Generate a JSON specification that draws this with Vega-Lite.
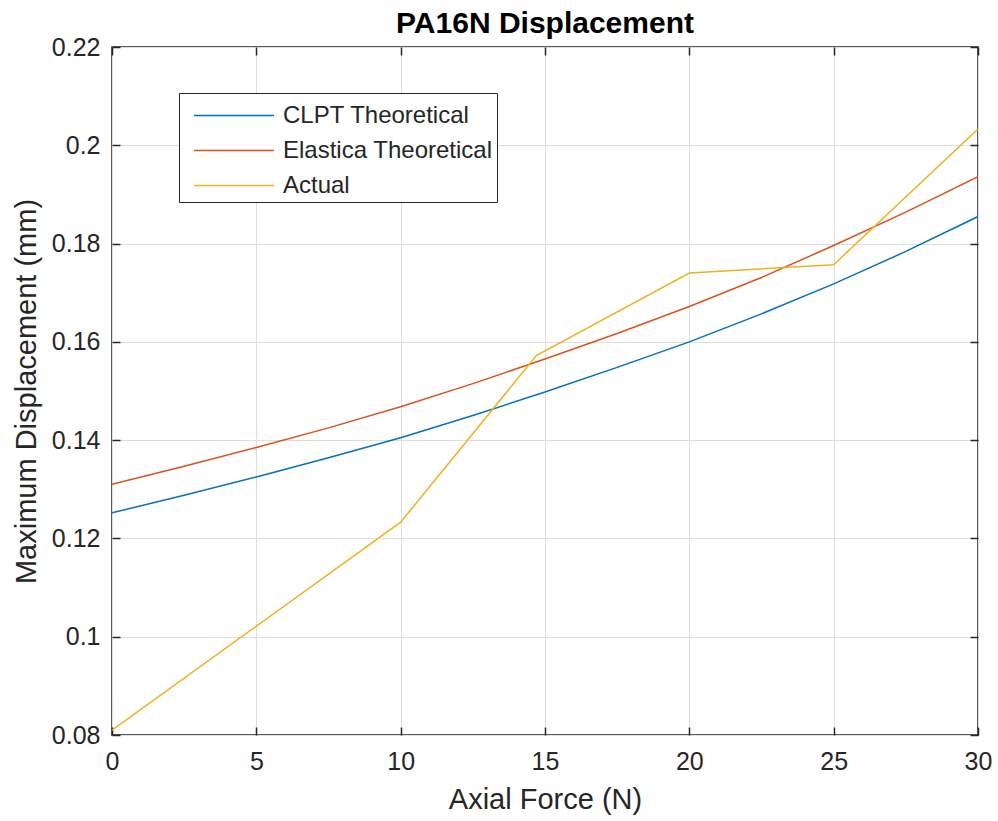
{
  "$schema": "https://vega.github.io/schema/vega-lite/v6.json",
  "autosize": "none",
  "width": 866,
  "height": 688,
  "padding": {"left": 112, "top": 47, "right": 20, "bottom": 86},
  "background": "white",
  "title": {"text": "PA16N Displacement", "font": "Liberation Sans", "fontSize": 30, "fontWeight": "bold", "color": "#000000", "offset": -4},
  "config": {
    "view": {"stroke": "#262626", "strokeWidth": 1.5},
    "axis": {"labelFont": "Liberation Sans", "titleFont": "Liberation Sans", "labelFontSize": 25, "titleFontSize": 29, "labelColor": "#262626", "titleColor": "#262626", "titleFontWeight": "normal", "gridColor": "#dedede", "gridOpacity": 1, "gridWidth": 1, "domain": false, "tickColor": "#262626", "tickWidth": 1.5, "labelFlush": false}
  },
  "data": {"values": [
    {"force": 0, "disp": 0.1252, "series": "CLPT Theoretical"},
    {"force": 2.5, "disp": 0.1288, "series": "CLPT Theoretical"},
    {"force": 5, "disp": 0.1325, "series": "CLPT Theoretical"},
    {"force": 7.5, "disp": 0.1364, "series": "CLPT Theoretical"},
    {"force": 10, "disp": 0.1405, "series": "CLPT Theoretical"},
    {"force": 12.5, "disp": 0.1450, "series": "CLPT Theoretical"},
    {"force": 15, "disp": 0.1498, "series": "CLPT Theoretical"},
    {"force": 17.5, "disp": 0.1548, "series": "CLPT Theoretical"},
    {"force": 20, "disp": 0.1600, "series": "CLPT Theoretical"},
    {"force": 22.5, "disp": 0.1657, "series": "CLPT Theoretical"},
    {"force": 25, "disp": 0.1718, "series": "CLPT Theoretical"},
    {"force": 27.5, "disp": 0.1784, "series": "CLPT Theoretical"},
    {"force": 30, "disp": 0.1855, "series": "CLPT Theoretical"},
    {"force": 0, "disp": 0.1310, "series": "Elastica Theoretical"},
    {"force": 2.5, "disp": 0.1347, "series": "Elastica Theoretical"},
    {"force": 5, "disp": 0.1385, "series": "Elastica Theoretical"},
    {"force": 7.5, "disp": 0.1425, "series": "Elastica Theoretical"},
    {"force": 10, "disp": 0.1468, "series": "Elastica Theoretical"},
    {"force": 12.5, "disp": 0.1515, "series": "Elastica Theoretical"},
    {"force": 15, "disp": 0.1565, "series": "Elastica Theoretical"},
    {"force": 17.5, "disp": 0.1617, "series": "Elastica Theoretical"},
    {"force": 20, "disp": 0.1672, "series": "Elastica Theoretical"},
    {"force": 22.5, "disp": 0.1731, "series": "Elastica Theoretical"},
    {"force": 25, "disp": 0.1796, "series": "Elastica Theoretical"},
    {"force": 27.5, "disp": 0.1864, "series": "Elastica Theoretical"},
    {"force": 30, "disp": 0.1936, "series": "Elastica Theoretical"},
    {"force": 0, "disp": 0.0810, "series": "Actual"},
    {"force": 10, "disp": 0.1233, "series": "Actual"},
    {"force": 14.7, "disp": 0.1572, "series": "Actual"},
    {"force": 20, "disp": 0.1740, "series": "Actual"},
    {"force": 25, "disp": 0.1757, "series": "Actual"},
    {"force": 30, "disp": 0.2033, "series": "Actual"}
  ]},
  "layer": [
    {
      "mark": {"type": "line", "strokeWidth": 1.5, "clip": true},
      "encoding": {
        "x": {"field": "force", "type": "quantitative", "title": "Axial Force (N)",
          "scale": {"domain": [0, 30], "nice": false},
          "axis": {"values": [0, 5, 10, 15, 20, 25, 30], "tickSize": -8, "labelPadding": 22, "titlePadding": 11}},
        "y": {"field": "disp", "type": "quantitative", "title": "Maximum Displacement (mm)",
          "scale": {"domain": [0.08, 0.22], "nice": false, "zero": false},
          "axis": {"values": [0.08, 0.1, 0.12, 0.14, 0.16, 0.18, 0.2, 0.22], "format": ".2~f", "tickSize": -8, "labelPadding": 20, "titlePadding": 10}},
        "color": {"field": "series", "type": "nominal",
          "scale": {"domain": ["CLPT Theoretical", "Elastica Theoretical", "Actual"], "range": ["#0072BD", "#D95319", "#EDB120"]},
          "legend": {"title": null, "orient": "none", "legendX": 67, "legendY": 46, "symbolType": "M-1,0H3.57", "symbolSize": 1225, "symbolStrokeWidth": 1.5, "symbolFillColor": "transparent", "labelFont": "Liberation Sans", "labelFontSize": 24, "labelColor": "#262626", "labelLimit": 400, "strokeColor": "#262626", "fillColor": "white", "padding": 4, "symbolOffset": 10, "rowPadding": 4, "labelOffset": 53}}
      }
    },
    {
      "mark": {"type": "line", "opacity": 0, "clip": true},
      "encoding": {
        "x": {"field": "force", "type": "quantitative",
          "axis": {"orient": "top", "values": [0, 5, 10, 15, 20, 25, 30], "tickSize": -8, "labels": false, "grid": false, "title": null}},
        "y": {"field": "disp", "type": "quantitative",
          "axis": {"orient": "right", "values": [0.08, 0.1, 0.12, 0.14, 0.16, 0.18, 0.2, 0.22], "tickSize": -8, "labels": false, "grid": false, "title": null}}
      }
    }
  ],
  "resolve": {"axis": {"x": "independent", "y": "independent"}}
}
